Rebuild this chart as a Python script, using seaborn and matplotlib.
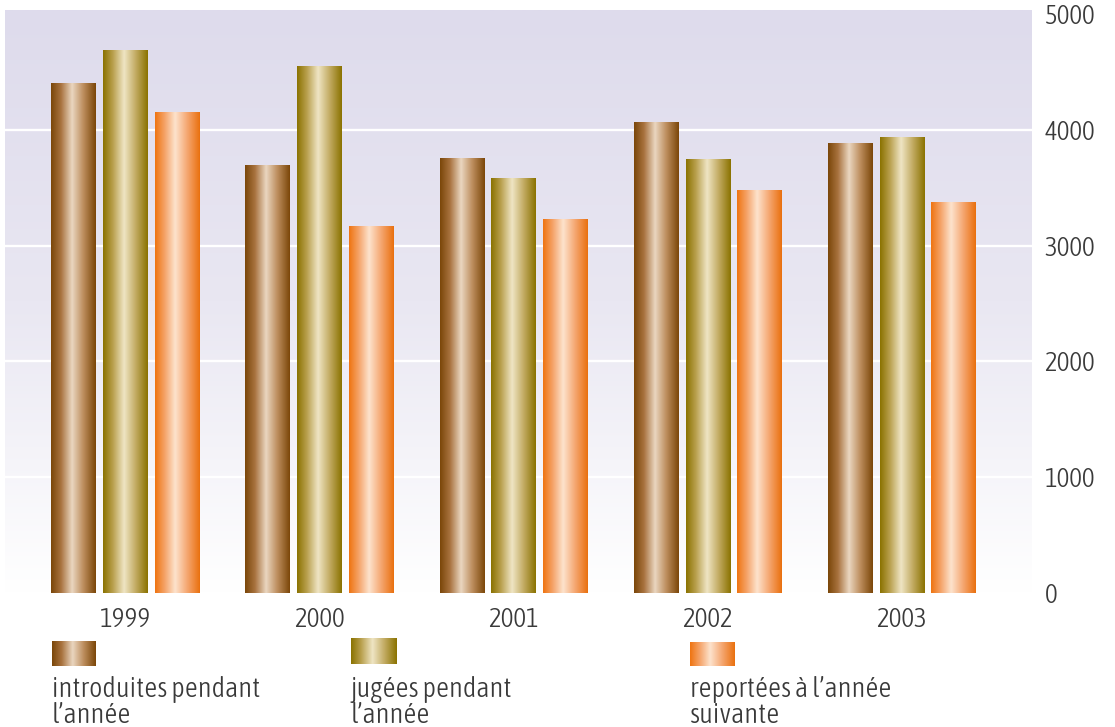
import numpy as np
import pandas as pd
import matplotlib
matplotlib.use("Agg")
import matplotlib.pyplot as plt
import seaborn as sns
from matplotlib.colors import LinearSegmentedColormap
from matplotlib import font_manager as fm

# ---- data ----
years = ["1999", "2000", "2001", "2002", "2003"]
introduites = [4405, 3700, 3760, 4070, 3890]
jugees = [4690, 4555, 3580, 3750, 3940]
reportees = [4155, 3170, 3230, 3480, 3380]
series = ["introduites pendant\nl’année", "jugées pendant\nl’année", "reportées à l’année\nsuivante"]
yticks = [0, 1000, 2000, 3000, 4000, 5000]

df = pd.DataFrame({
    "year": years * 3,
    "value": introduites + jugees + reportees,
    "series": [series[0]] * 5 + [series[1]] * 5 + [series[2]] * 5,
})

# gradient colour stops per series (left -> right)
grad_stops = [
    [(0.0, "#7a4609"), (0.22, "#a8723e"), (0.47, "#ead6c0"), (0.72, "#bd8e5e"), (1.0, "#7b4608")],
    [(0.0, "#8a7200"), (0.22, "#b9a04e"), (0.47, "#efe5c4"), (0.72, "#c4ad66"), (1.0, "#8a7200")],
    [(0.0, "#ef7410"), (0.22, "#f5a46a"), (0.45, "#fde3cd"), (0.72, "#f5a670"), (1.0, "#e9700e")],
]
cmaps = [LinearSegmentedColormap.from_list(f"g{i}", s) for i, s in enumerate(grad_stops)]
flat_cols = ["#b07a45", "#bba356", "#f5a065"]
text_col = "#3a3a3a"

# pick a condensed font if one exists, else a light one
fprop = None
cands = []
for f in fm.fontManager.ttflist:
    st = str(f.stretch)
    if ("ondensed" in st or "arrow" in st or "Condensed" in f.name or "Narrow" in f.name) \
            and f.style == "normal":
        w = f.weight if isinstance(f.weight, int) else 400
        cands.append((abs(w - 300), f))
if cands:
    cands.sort(key=lambda t: t[0])
    fprop = fm.FontProperties(fname=cands[0][1].fname)
else:
    fprop = fm.FontProperties(family=["Roboto", "DejaVu Sans"], weight="light")
fs_tick = 19.5
fs_leg = 20.5

W, H = 1115, 727
fig = plt.figure(figsize=(W / 100, H / 100), dpi=100)
fig.patch.set_facecolor("white")
ax = fig.add_axes([5 / W, 1 - 593 / H, (1032 - 5) / W, (593 - 10) / H])

sns.barplot(data=df, x="year", y="value", hue="series", order=years, hue_order=series,
            palette=flat_cols, width=0.8, gap=0.14, legend=False, ax=ax, saturation=1,
            errorbar=None)

grad = np.linspace(0, 1, 256)[None, :]
for i, cont in enumerate(ax.containers):
    for bar in cont:
        x0, w, h = bar.get_x(), bar.get_width(), bar.get_height()
        im = ax.imshow(grad, extent=[x0, x0 + w, 0, h], aspect="auto", cmap=cmaps[i],
                       zorder=3, interpolation="bilinear")
        im.set_clip_path(bar)
        bar.set_facecolor("none")
        bar.set_edgecolor("none")

# background gradient
bg = LinearSegmentedColormap.from_list("bg", ["#dedbec", "#e9e7f2", "#ffffff"])
ax.imshow(np.linspace(0, 1, 256)[:, None], extent=[0, 1, 0, 1], transform=ax.transAxes,
          cmap=bg, aspect="auto", zorder=0, interpolation="bilinear")

ax.set_xlim(-0.62, 4.67)
ax.set_ylim(0, 5035)
ax.set_yticks(yticks)
ax.set_axisbelow(True)
ax.yaxis.grid(True, color="white", lw=1.7, zorder=1)
ax.xaxis.grid(False)
ax.get_ygridlines()[-1].set_visible(False)
ax.get_ygridlines()[0].set_visible(False)
for s in ax.spines.values():
    s.set_visible(False)
ax.yaxis.tick_right()
ax.tick_params(axis="y", length=0, pad=9, labelcolor=text_col)
ax.tick_params(axis="x", length=0, pad=10, labelcolor=text_col)
for lab in ax.get_xticklabels() + ax.get_yticklabels():
    lab.set_fontproperties(fprop)
    lab.set_fontsize(fs_tick)
ax.set_xlabel("")
ax.set_ylabel("")

# legend
sw = [(52, 641, 44, 25), (351, 638, 46, 26), (690, 642, 45, 24)]
for i, (x, y, w, h) in enumerate(sw):
    lax = fig.add_axes([x / W, 1 - (y + h) / H, w / W, h / H])
    lax.imshow(grad, aspect="auto", cmap=cmaps[i], interpolation="bilinear")
    lax.set_axis_off()
    t = fig.text(x / W, 1 - 723 / H, series[i], color=text_col,
                 ha="left", va="baseline", linespacing=0.95)
    t.set_fontproperties(fprop)
    t.set_fontsize(fs_leg)

fig.savefig("out.png", dpi=100)
